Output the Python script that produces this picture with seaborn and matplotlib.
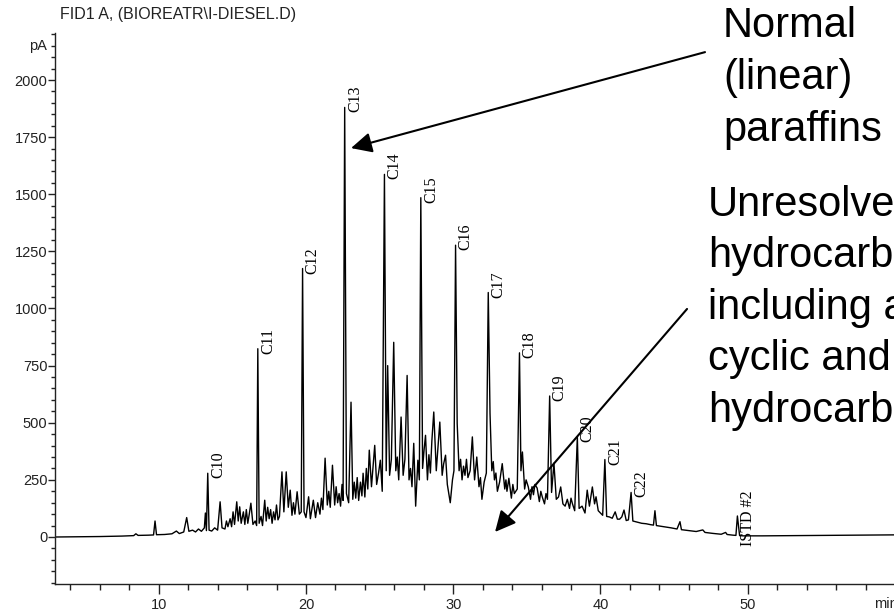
import matplotlib
matplotlib.use("Agg")
import matplotlib.pyplot as plt
from matplotlib.ticker import MultipleLocator
import numpy as np
import pandas as pd
import seaborn as sns

traza_inicio = [
    (3.0, 0), (4.5, 1), (6.0, 2), (7.5, 4), (8.3, 6), (8.45, 14), (8.6, 7), (9.3, 8),
    (9.65, 9), (9.75, 70), (9.85, 10), (10.4, 11), (10.9, 14), (11.2, 26), (11.4, 15),
    (11.7, 22), (11.9, 85), (12.05, 25), (12.3, 30), (12.5, 22), (12.7, 35), (12.9, 25),
    (13.1, 40), (13.17, 105), (13.24, 28), (13.33, 279), (13.42, 30), (13.6, 26),
    (13.8, 40), (14.0, 30), (14.17, 154), (14.3, 40), (14.5, 35), (14.6, 70), (14.7, 45),
    (14.85, 80), (14.95, 45), (15.05, 110), (15.15, 55), (15.3, 154), (15.4, 70),
    (15.5, 132), (15.6, 60), (15.75, 110), (15.85, 55), (15.95, 120), (16.05, 60),
    (16.15, 100), (16.26, 148), (16.4, 55), (16.55, 70), (16.65, 50), (16.73, 824),
    (16.82, 60), (16.95, 90), (17.05, 50), (17.2, 161), (17.3, 70), (17.4, 130),
    (17.5, 80), (17.6, 120), (17.7, 60), (17.8, 110), (17.9, 75), (18.0, 140),
    (18.1, 75), (18.2, 90), (18.37, 285), (18.5, 110), (18.66, 285), (18.8, 130),
    (18.93, 205), (19.05, 95), (19.15, 150), (19.25, 100), (19.4, 198), (19.55, 100),
    (19.68, 110),
]
traza_media = [
    (19.77, 1175), (19.87, 110), (20.0, 85), (20.18, 176), (20.3, 80), (20.5, 161),
    (20.65, 85), (20.8, 150), (20.95, 100), (21.05, 170), (21.15, 120), (21.3, 345),
    (21.45, 140), (21.55, 200), (21.65, 130), (21.8, 314), (21.95, 140), (22.05, 220),
    (22.15, 150), (22.25, 190), (22.35, 135), (22.45, 230), (22.52, 160), (22.63, 1880),
    (22.75, 190), (22.9, 150), (23.06, 590), (23.18, 165), (23.28, 240), (23.38, 170),
    (23.48, 260), (23.58, 160), (23.7, 240), (23.8, 180), (23.88, 279), (24.0, 175),
    (24.1, 300), (24.2, 210), (24.3, 380), (24.45, 220), (24.55, 300), (24.67, 401),
    (24.8, 230), (24.93, 280), (25.05, 336), (25.18, 200), (25.33, 1587), (25.45, 290),
    (25.55, 750), (25.68, 270), (25.8, 340), (25.96, 852), (26.1, 290), (26.2, 350),
    (26.3, 250), (26.46, 525), (26.6, 270), (26.72, 340), (26.87, 707), (27.0, 250),
    (27.1, 300), (27.2, 220), (27.32, 410), (27.45, 135), (27.6, 336), (27.7, 250),
    (27.8, 1485), (27.92, 300), (28.02, 380), (28.12, 445), (28.25, 250), (28.35, 360),
    (28.45, 280), (28.55, 420), (28.68, 547), (28.85, 290), (28.95, 380), (29.09, 503),
    (29.25, 270), (29.35, 320), (29.48, 358), (29.6, 230), (29.8, 150), (29.95, 250),
    (30.05, 290), (30.16, 1277), (30.27, 497), (30.4, 290), (30.5, 340), (30.6, 250),
    (30.7, 310), (30.8, 270), (30.9, 340), (31.0, 260), (31.15, 290), (31.3, 438),
    (31.45, 250), (31.6, 350), (31.75, 220), (31.85, 260), (31.95, 165), (32.1, 240),
    (32.25, 280), (32.38, 1070), (32.5, 541), (32.62, 290), (32.72, 330), (32.8, 250),
    (32.9, 280), (33.0, 200), (33.15, 240), (33.33, 321), (33.5, 210), (33.58, 250),
    (33.65, 200), (33.78, 257), (33.95, 170), (34.05, 230), (34.15, 190), (34.35, 210),
]
traza_final = [
    (34.5, 806), (34.6, 290), (34.7, 372), (34.85, 210), (34.95, 250), (35.1, 219),
    (35.25, 165), (35.35, 220), (35.45, 185), (35.55, 230), (35.7, 214), (35.85, 155),
    (35.95, 200), (36.05, 175), (36.2, 145), (36.3, 190), (36.4, 165), (36.55, 617),
    (36.68, 195), (36.84, 323), (37.0, 165), (37.15, 175), (37.3, 219), (37.45, 145),
    (37.6, 135), (37.75, 165), (37.9, 125), (38.0, 170), (38.1, 145), (38.25, 115),
    (38.43, 438), (38.55, 125), (38.75, 135), (38.95, 105), (39.1, 205), (39.25, 135),
    (39.45, 219), (39.6, 145), (39.7, 176), (39.85, 115), (40.0, 105), (40.15, 95),
    (40.3, 339), (40.42, 90), (40.6, 88), (40.8, 82), (41.0, 110), (41.15, 78),
    (41.3, 78), (41.45, 88), (41.6, 118), (41.75, 72), (41.9, 75), (42.08, 195),
    (42.2, 70), (42.5, 65), (42.8, 60), (43.1, 58), (43.4, 54), (43.6, 52), (43.7, 115),
    (43.8, 50), (44.3, 45), (44.8, 40), (45.2, 35), (45.4, 67), (45.5, 32), (46.0, 28),
    (46.5, 24), (46.95, 31), (47.1, 20), (47.6, 16), (48.2, 12), (48.5, 20), (48.6, 11),
    (49.0, 8), (49.2, 7), (49.3, 92), (49.45, 6), (49.7, 5), (51.0, 5), (53.0, 6),
    (55.0, 7), (57.0, 8), (59.0, 9), (62.0, 10),
]

# Picos de n-parafinas etiquetados
etiquetas = ["C10", "C11", "C12", "C13", "C14", "C15", "C16", "C17", "C18",
             "C19", "C20", "C21", "C22", "ISTD #2"]
tiempos_pico = [13.33, 16.73, 19.77, 22.63, 25.33, 27.8, 30.16, 32.38, 34.5,
                36.55, 38.43, 40.3, 42.08, 49.3]
alturas_pico = [279, 824, 1175, 1880, 1587, 1485, 1277, 1070, 806,
                617, 438, 339, 195, 92]
altura_texto = [a - 22 for a in alturas_pico[:-1]] + [-40]

traza = traza_inicio + traza_media + traza_final
df = pd.DataFrame(traza, columns=["min", "pA"])

sns.set_style("ticks")
plt.rcParams['font.family'] = ['Liberation Sans', 'DejaVu Sans']

# Escala: 14.725 px por minuto, 0.2285 px por pA
fig = plt.figure(figsize=(8.94, 6.14), dpi=100)
x0, x1 = 2.957, 62.0
ax = fig.add_axes([55 / 894, 30 / 614, (x1 - x0) * 14.725 / 894, 551 / 614])

sns.lineplot(data=df, x="min", y="pA", sort=False, estimator=None,
             color="black", linewidth=1.0, ax=ax)

ax.set_xlim(x0, x1)
ax.set_ylim(-205.7, 2205.7)
ax.set_xlabel("")
ax.set_ylabel("")

ax.set_xticks([10, 20, 30, 40, 50])
ax.set_xticks(np.arange(4, 60, 2), minor=True)
ax.set_yticks(np.arange(0, 2001, 250))
ax.yaxis.set_minor_locator(MultipleLocator(50))

col_eje = "#222222"
for lado in ["top", "right"]:
    ax.spines[lado].set_visible(False)
for lado in ["left", "bottom"]:
    ax.spines[lado].set_color(col_eje)
    ax.spines[lado].set_linewidth(1.0)
ax.tick_params(axis="x", which="major", length=7, width=1, color=col_eje,
               labelsize=10.5, labelcolor=col_eje, pad=3)
ax.tick_params(axis="x", which="minor", length=4.5, width=1, color=col_eje)
ax.tick_params(axis="y", which="major", length=5, width=1, color=col_eje,
               labelsize=10.5, labelcolor=col_eje, pad=0.5)
ax.tick_params(axis="y", which="minor", length=3, width=1, color=col_eje)

ax.annotate("pA", xy=(0, 2150), xycoords=("axes fraction", "data"),
            xytext=(-5.5, 0), textcoords="offset points",
            ha="right", va="center", fontsize=10.5, color=col_eje)
ax.annotate("min", xy=(58.6, 0), xycoords=("data", "axes fraction"),
            xytext=(0, -14.5), textcoords="offset points",
            ha="left", va="center", fontsize=10.5, color=col_eje,
            annotation_clip=False)

for txt, t, h in zip(etiquetas, tiempos_pico, altura_texto):
    ax.text(t + 0.15, h, txt, rotation=90, ha="left", va="bottom",
            fontsize=11.5, family="Liberation Serif", color="black")

fig.text(60 / 894, 1 - 19.5 / 614, r"FID1 A, (BIOREATR\I-DIESEL.D)",
         ha="left", va="baseline", fontsize=11.5, color=col_eje)

# Flechas y textos explicativos
flecha = dict(arrowstyle="-|>,head_length=0.45,head_width=0.22",
              mutation_scale=28, lw=1.5, color="black",
              shrinkA=0, shrinkB=0)
ax.annotate("", xy=(23.06, 1702), xytext=(47.1, 2122), arrowprops=flecha,
            annotation_clip=False)
ax.annotate("", xy=(32.84, 22), xytext=(45.88, 998), arrowprops=flecha,
            annotation_clip=False)

fig.text(723 / 894, 1 - 6 / 614, "Normal\n(linear)\nparaffins",
         ha="left", va="top", fontsize=30, linespacing=1.39, color="black")
fig.text(708 / 894, 1 - 185 / 614,
         "Unresolved\nhydrocarbons\nincluding aromatic,\ncyclic and branched\nhydrocarbons",
         ha="left", va="top", fontsize=30, linespacing=1.37, color="black")

fig.savefig("out.png", dpi=100)
